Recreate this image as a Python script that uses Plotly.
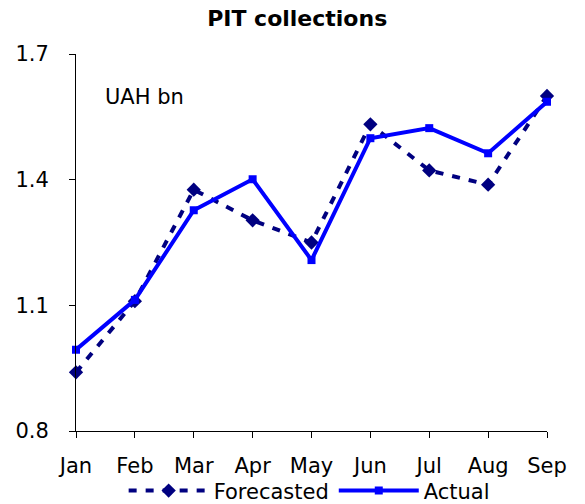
import plotly.graph_objects as go

months = ["Jan", "Feb", "Mar", "Apr", "May", "Jun", "Jul", "Aug", "Sep"]
forecasted = [0.94, 1.11, 1.376, 1.303, 1.25, 1.532, 1.422, 1.388, 1.60]
actual = [0.994, 1.113, 1.327, 1.401, 1.208, 1.499, 1.523, 1.463, 1.586]
y_ticks = [0.8, 1.1, 1.4, 1.7]
y_tick_text = ["0.8", "1.1", "1.4", "1.7"]

FONT = "DejaVu Sans"

fig = go.Figure()
fig.add_trace(go.Scatter(
    x=months, y=forecasted, name="Forecasted", mode="lines+markers",
    line=dict(color="#000080", width=4, dash="8px,9px"),
    marker=dict(symbol="diamond", size=11, color="#000080"),
    cliponaxis=False,
))
fig.add_trace(go.Scatter(
    x=months, y=actual, name="Actual", mode="lines+markers",
    line=dict(color="#0000FF", width=4),
    marker=dict(symbol="square", size=8, color="#0000FF"),
    cliponaxis=False,
))

fig.update_layout(
    width=585, height=504,
    margin=dict(l=75.5, r=38, t=54.3, b=72.6, autoexpand=False),
    paper_bgcolor="white", plot_bgcolor="white",
    title=dict(text="<b>PIT collections</b>", xref="container", x=0.508,
               xanchor="center", yref="container", y=0.964, yanchor="middle",
               font=dict(family=FONT, size=22, color="black")),
    font=dict(family=FONT, size=21, color="black"),
    showlegend=True,
    legend=dict(orientation="h", x=0.495, xanchor="center",
                yref="container", y=0.026, yanchor="middle",
                font=dict(family=FONT, size=21, color="black"),
                itemwidth=80, tracegroupgap=0, bgcolor="rgba(0,0,0,0)"),
    annotations=[dict(text="UAH bn", xref="paper", yref="paper",
                      x=0.058, y=0.887, xanchor="left", yanchor="middle",
                      showarrow=False,
                      font=dict(family=FONT, size=21, color="black"))],
)
fig.update_xaxes(
    type="category", categoryorder="array", categoryarray=months,
    range=[0, 8], showgrid=False, zeroline=False, automargin=False,
    showline=True, linecolor="black", linewidth=1,
    ticks="outside", ticklen=6, tickcolor="black",
    tickfont=dict(family=FONT, size=21, color="black"),
    ticklabelstandoff=10,
)
fig.update_yaxes(
    range=[0.8, 1.7], tickvals=y_ticks, ticktext=y_tick_text,
    showgrid=False, zeroline=False, automargin=False,
    showline=True, linecolor="black", linewidth=1,
    ticks="outside", ticklen=6, tickcolor="black",
    tickfont=dict(family=FONT, size=21, color="black"),
    ticklabelstandoff=16,
)

fig.write_html("out.html", config={"displayModeBar": False},
               post_script="document.body.style.margin='0';document.body.style.overflow='hidden';")
